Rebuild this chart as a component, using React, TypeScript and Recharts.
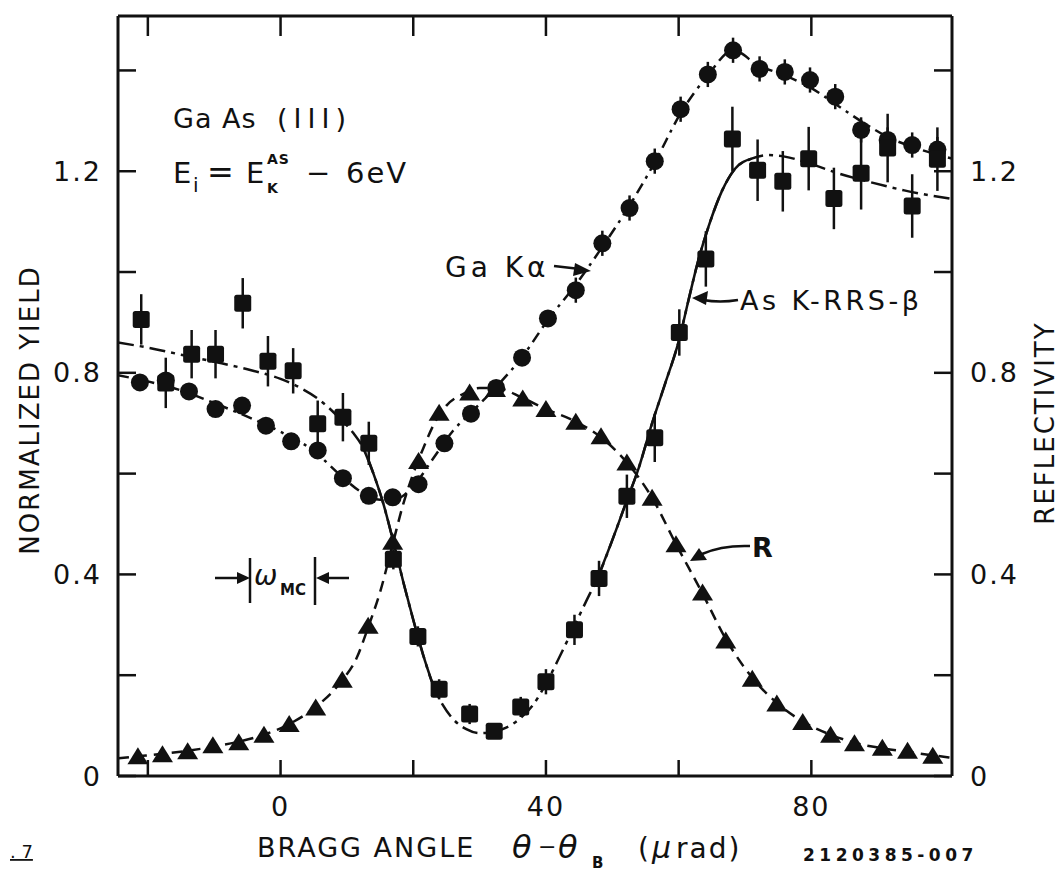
import React from 'react';
import { ComposedChart, XAxis, YAxis, Line, Scatter, ErrorBar } from 'recharts';

// Ga K-alpha (circles)
const gaX = [-21.2, -17.3, -13.8, -9.8, -5.8, -2.2, 1.6, 5.6, 9.4, 13.3, 16.9, 20.8, 24.7, 28.7, 32.5, 36.4, 40.3, 44.5, 48.5, 52.6, 56.4, 60.3, 64.4, 68.2, 72.2, 76.0, 79.8, 83.6, 87.5, 91.5, 95.2, 99.0];
const gaY = [0.781, 0.785, 0.763, 0.728, 0.735, 0.695, 0.664, 0.646, 0.591, 0.556, 0.553, 0.579, 0.66, 0.719, 0.77, 0.83, 0.908, 0.964, 1.057, 1.127, 1.22, 1.323, 1.392, 1.44, 1.403, 1.397, 1.381, 1.348, 1.282, 1.262, 1.252, 1.243];
const gaErr = [0, 0, 0, 0, 0, 0, 0, 0, 0, 0, 0, 0, 0, 0, 0, 0, 0, 0.025, 0.025, 0.025, 0.025, 0.025, 0.025, 0.025, 0.025, 0.025, 0.025, 0.025, 0.025, 0.025, 0.025, 0.025];

// As K-RRS-beta (squares)
const asX = [-21.0, -17.3, -13.4, -9.8, -5.7, -1.9, 1.9, 5.6, 9.4, 13.3, 17.0, 20.7, 23.9, 28.5, 32.2, 36.2, 40.0, 44.3, 48.0, 52.2, 56.4, 60.1, 64.1, 68.1, 71.9, 75.7, 79.6, 83.4, 87.5, 91.5, 95.2, 99.0];
const asY = [0.906, 0.78, 0.837, 0.837, 0.938, 0.823, 0.804, 0.699, 0.712, 0.66, 0.43, 0.277, 0.172, 0.123, 0.089, 0.137, 0.187, 0.29, 0.392, 0.555, 0.671, 0.88, 1.026, 1.264, 1.202, 1.18, 1.225, 1.146, 1.196, 1.246, 1.131, 1.224];
const asErr = [0.05, 0.05, 0.048, 0.048, 0.05, 0.05, 0.045, 0.046, 0.048, 0.043, 0.02, 0.02, 0.02, 0.02, 0.015, 0.02, 0.025, 0.03, 0.035, 0.043, 0.048, 0.046, 0.055, 0.064, 0.061, 0.06, 0.063, 0.061, 0.072, 0.068, 0.063, 0.063];

// Reflectivity R (triangles)
const rX = [-21.5, -17.8, -14.0, -10.2, -6.3, -2.5, 1.3, 5.3, 9.3, 13.2, 16.9, 20.8, 23.9, 28.5, 32.4, 36.5, 40.0, 44.5, 48.3, 52.2, 56.0, 59.6, 63.6, 67.1, 71.1, 74.8, 78.7, 82.9, 86.5, 90.7, 94.5, 98.3];
const rY = [0.039, 0.043, 0.049, 0.061, 0.067, 0.082, 0.103, 0.136, 0.191, 0.298, 0.465, 0.625, 0.721, 0.761, 0.768, 0.749, 0.728, 0.703, 0.674, 0.622, 0.552, 0.46, 0.364, 0.269, 0.193, 0.144, 0.107, 0.082, 0.065, 0.056, 0.05, 0.04];

// fitted (theory) curves
const gaFitX = [-24.5, -20, -15, -10, -5, 0, 5, 9, 12, 15, 17.5, 20, 23, 26, 29, 32.5, 36.5, 40.3, 44.5, 48.5, 52.5, 56.5, 60.3, 64.4, 68.2, 72, 76, 80, 84, 88, 92, 96, 101.2];
const gaFitY = [0.795, 0.783, 0.765, 0.74, 0.713, 0.683, 0.645, 0.597, 0.565, 0.548, 0.55, 0.575, 0.63, 0.685, 0.725, 0.772, 0.833, 0.905, 0.975, 1.05, 1.13, 1.22, 1.315, 1.39, 1.44, 1.41, 1.39, 1.365, 1.33, 1.295, 1.265, 1.245, 1.225];

const rFitX = [-24.5, -21.5, -17.8, -14, -10.2, -6.3, -2.5, 1.3, 5.3, 9.3, 11.5, 13.2, 15, 16.9, 18.5, 20, 21.5, 23, 25, 27.5, 30, 32.5, 36.5, 40, 44.5, 48.3, 52.2, 56, 59.6, 63.6, 67.1, 71.1, 74.8, 78.7, 82.9, 86.5, 90.7, 94.5, 98.3, 101.2];
const rFitY = [0.035, 0.039, 0.044, 0.05, 0.058, 0.068, 0.082, 0.103, 0.137, 0.19, 0.235, 0.295, 0.365, 0.46, 0.54, 0.6, 0.65, 0.695, 0.735, 0.758, 0.77, 0.77, 0.75, 0.728, 0.703, 0.672, 0.622, 0.552, 0.46, 0.362, 0.272, 0.195, 0.145, 0.108, 0.082, 0.066, 0.055, 0.048, 0.041, 0.036];

const asFitX = [-24.5, -20, -15, -10, -5, 0, 3, 6, 8.5, 11, 12.5, 14, 15.5, 17, 18.5, 20, 21.5, 23, 24.5, 26, 28, 30, 32, 34, 36, 38, 40, 42, 44, 46, 48, 50, 52, 54, 56, 58, 60, 61.5, 63, 64.5, 66.5, 68.5, 71, 73.5, 76, 80, 84, 89, 94, 101.2];
const asFitY = [0.86, 0.85, 0.836, 0.822, 0.807, 0.788, 0.77, 0.745, 0.715, 0.68, 0.65, 0.6, 0.54, 0.465, 0.385, 0.31, 0.24, 0.18, 0.14, 0.113, 0.093, 0.085, 0.087, 0.096, 0.113, 0.14, 0.183, 0.235, 0.29, 0.345, 0.4, 0.468, 0.54, 0.612, 0.7, 0.78, 0.862, 0.945, 1.025, 1.09, 1.16, 1.205, 1.225, 1.232, 1.229, 1.214, 1.196, 1.178, 1.162, 1.145];

const xTicks = [-20, 0, 20, 40, 60, 80];
const xTickLabels = ['', '0', '', '40', '', '80'];
const yTicks = [0, 0.2, 0.4, 0.6, 0.8, 1.0, 1.2, 1.4];
const yTickLabels = ['0', '', '0.4', '', '0.8', '', '1.2', ''];

const zip = (xs: number[], ys: number[], es?: number[]) =>
  xs.map((x, i) => ({ x, y: ys[i], err: es ? es[i] : 0 }));

const gaData = zip(gaX, gaY, gaErr);
const asData = zip(asX, asY, asErr);
const rData = zip(rX, rY);
const gaFit = zip(gaFitX, gaFitY);
const rFit = zip(rFitX, rFitY);
const asFit = zip(asFitX, asFitY);
const asSolidA = asFit.filter((p) => p.x >= 12.5 && p.x <= 23);
const asSolidB = asFit.filter((p) => p.x >= 48 && p.x <= 71);

const INK = '#111';
const FONT = 'DejaVu Sans, sans-serif';

const CircleShape = (p: any) => <circle cx={p.cx} cy={p.cy} r={9} fill={INK} />;
const SquareShape = (p: any) => (
  <rect x={p.cx - 8.5} y={p.cy - 8.5} width={17} height={17} rx={2.5} fill={INK} />
);
const TriShape = (p: any) => (
  <polygon
    points={`${p.cx},${p.cy - 9} ${p.cx + 10.5},${p.cy + 8} ${p.cx - 10.5},${p.cy + 8}`}
    fill={INK}
  />
);

const xFmt = (v: number) => xTickLabels[xTicks.indexOf(v)] ?? '';
const yFmt = (v: number) => yTickLabels[yTicks.indexOf(v)] ?? '';
const tickStyle = { fontSize: 27, fill: INK, fontFamily: FONT, letterSpacing: 2 };

export default function App() {
  return (
    <div style={{ position: 'absolute', left: 0, top: 0, width: 1062, height: 873, background: '#fff' }}>
      <ComposedChart
        width={1062}
        height={873}
        margin={{ top: 15, right: 109, bottom: 96, left: 117 }}
        style={{ fontFamily: FONT }}
      >
        <XAxis
          xAxisId="bottom"
          type="number"
          dataKey="x"
          domain={[-24.5, 101.2]}
          allowDataOverflow
          ticks={xTicks}
          interval={0}
          tickFormatter={xFmt}
          height={1}
          tickSize={-16}
          tickMargin={37}
          tick={tickStyle}
          axisLine={{ stroke: INK, strokeWidth: 3 }}
          tickLine={{ stroke: INK, strokeWidth: 2.5 }}
        />
        <XAxis
          xAxisId="top"
          orientation="top"
          type="number"
          dataKey="x"
          domain={[-24.5, 101.2]}
          allowDataOverflow
          ticks={xTicks}
          interval={0}
          tickFormatter={() => ''}
          height={1}
          tickSize={-20}
          axisLine={{ stroke: INK, strokeWidth: 3 }}
          tickLine={{ stroke: INK, strokeWidth: 2.5 }}
        />
        <YAxis
          yAxisId="left"
          type="number"
          domain={[0, 1.508]}
          allowDataOverflow
          ticks={yTicks}
          interval={0}
          tickFormatter={yFmt}
          width={1}
          tickSize={-18}
          tickMargin={34}
          tick={tickStyle}
          axisLine={{ stroke: INK, strokeWidth: 3 }}
          tickLine={{ stroke: INK, strokeWidth: 2.5 }}
        />
        <YAxis
          yAxisId="right"
          orientation="right"
          type="number"
          domain={[0, 1.508]}
          allowDataOverflow
          ticks={yTicks}
          interval={0}
          tickFormatter={yFmt}
          width={1}
          tickSize={-18}
          tickMargin={36}
          tick={tickStyle}
          axisLine={{ stroke: INK, strokeWidth: 3 }}
          tickLine={{ stroke: INK, strokeWidth: 2.5 }}
        />

        <Line xAxisId="bottom" yAxisId="left" data={gaFit} dataKey="y" type="monotone" stroke={INK} strokeWidth={2.5} strokeDasharray="11 6 3 6" dot={false} activeDot={false} isAnimationActive={false} />
        <Line xAxisId="top" yAxisId="right" data={rFit} dataKey="y" type="monotone" stroke={INK} strokeWidth={2.5} strokeDasharray="11 7" dot={false} activeDot={false} isAnimationActive={false} />
        <Line xAxisId="bottom" yAxisId="left" data={asFit} dataKey="y" type="monotone" stroke={INK} strokeWidth={2.5} strokeDasharray="16 6 4 6" dot={false} activeDot={false} isAnimationActive={false} />
        <Line xAxisId="bottom" yAxisId="left" data={asSolidA} dataKey="y" type="monotone" stroke={INK} strokeWidth={2.5} dot={false} activeDot={false} isAnimationActive={false} />
        <Line xAxisId="bottom" yAxisId="left" data={asSolidB} dataKey="y" type="monotone" stroke={INK} strokeWidth={2.5} dot={false} activeDot={false} isAnimationActive={false} />

        <Scatter xAxisId="top" yAxisId="right" data={rData} dataKey="y" shape={TriShape} isAnimationActive={false} />
        <Scatter xAxisId="bottom" yAxisId="left" data={gaData} dataKey="y" shape={CircleShape} isAnimationActive={false}>
          <ErrorBar dataKey="err" direction="y" width={0} stroke={INK} strokeWidth={2.5} />
        </Scatter>
        <Scatter xAxisId="bottom" yAxisId="left" data={asData} dataKey="y" shape={SquareShape} isAnimationActive={false}>
          <ErrorBar dataKey="err" direction="y" width={0} stroke={INK} strokeWidth={2.5} />
        </Scatter>
      </ComposedChart>

      <svg
        width={1062}
        height={873}
        style={{ position: 'absolute', left: 0, top: 0, pointerEvents: 'none' }}
        fontFamily={FONT}
        fill={INK}
      >
        {/* axis titles */}
        <text x={30} y={410} fontSize={26} letterSpacing={2} textAnchor="middle" dominantBaseline="central" transform="rotate(-90 30 410)">NORMALIZED YIELD</text>
        <text x={1045} y={423} fontSize={26} letterSpacing={2} textAnchor="middle" dominantBaseline="central" transform="rotate(-90 1045 423)">REFLECTIVITY</text>

        <text x={257} y={857} fontSize={27} letterSpacing={2}>BRAGG ANGLE</text>
        <text y={858} fontSize={32}>
          <tspan x={512} fontStyle="italic">θ</tspan>
          <tspan x={538} y={854} fontSize={22}>−</tspan>
          <tspan x={558} y={858} fontStyle="italic">θ</tspan>
          <tspan x={592} y={868} fontSize={15} fontWeight="bold">B</tspan>
          <tspan x={638} y={858} fontSize={28}>(</tspan>
          <tspan x={652} fontSize={30} fontStyle="italic">µ</tspan>
          <tspan x={676} fontSize={28} letterSpacing={2}>rad)</tspan>
        </text>

        <text x={803} y={861} fontSize={17} fontWeight="bold" letterSpacing={4.5}>2120385-007</text>
        <text x={10} y={858} fontSize={18} style={{ textDecoration: 'underline' }}>. 7</text>

        {/* sample annotations */}
        <text x={173} y={128} fontSize={27} letterSpacing={1}>Ga As</text>
        <text x={277} y={128} fontSize={27} letterSpacing={6}>(III)</text>

        <text x={173} y={183} fontSize={29}>E</text>
        <text x={193} y={192} fontSize={20}>i</text>
        <text x={207} y={183} fontSize={32}>=</text>
        <text x={246} y={183} fontSize={29}>E</text>
        <text x={267} y={164} fontSize={14} fontWeight="bold" letterSpacing={1}>AS</text>
        <text x={267} y={193} fontSize={14} fontWeight="bold">K</text>
        <text x={306} y={183} fontSize={29}>−</text>
        <text x={346} y={183} fontSize={29} letterSpacing={2}>6eV</text>

        {/* Ga K alpha label */}
        <text x={445} y={267} fontSize={28} letterSpacing={4} dominantBaseline="central">Ga Kα</text>
        <path d="M554,266 L580,269" stroke={INK} strokeWidth={2.5} fill="none" />
        <polygon points="591,271 575,263 573,276" fill={INK} />

        {/* As K-RRS-beta label */}
        <text x={740} y={300} fontSize={27} letterSpacing={3.5} dominantBaseline="central">As K-RRS-β</text>
        <path d="M738,300 Q720,303 703,300" stroke={INK} strokeWidth={2.5} fill="none" />
        <polygon points="692,298 708,291 706,305" fill={INK} />

        {/* R label */}
        <text x={752} y={547} fontSize={27} fontWeight="bold" dominantBaseline="central">R</text>
        <path d="M750,546 Q722,545 702,554" stroke={INK} strokeWidth={2.5} fill="none" />
        <polygon points="690,561 699,548 707,560" fill={INK} />

        {/* omega_MC */}
        <path d="M215,578 L242,578" stroke={INK} strokeWidth={2.5} />
        <polygon points="250,578 237,572 237,584" fill={INK} />
        <path d="M250,558 L250,603" stroke={INK} strokeWidth={2.5} />
        <text x={254} y={585} fontSize={28} fontStyle="italic">ω</text>
        <text x={280} y={595} fontSize={15} fontWeight="bold">MC</text>
        <path d="M315,557 L315,605" stroke={INK} strokeWidth={2.5} />
        <path d="M349,578 L323,578" stroke={INK} strokeWidth={2.5} />
        <polygon points="316,578 329,572 329,584" fill={INK} />
      </svg>
    </div>
  );
}
